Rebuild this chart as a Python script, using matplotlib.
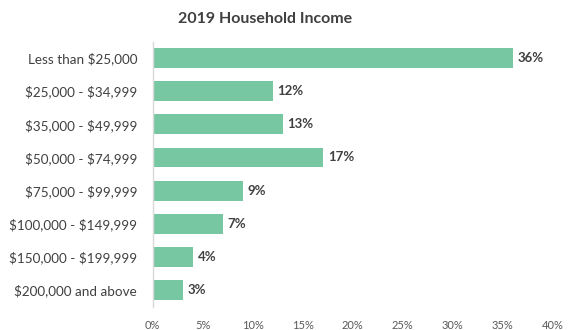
import matplotlib
matplotlib.use("Agg")
import matplotlib.pyplot as plt
from matplotlib.ticker import FuncFormatter

categories = [
    "Less than $25,000",
    "$25,000 - $34,999",
    "$35,000 - $49,999",
    "$50,000 - $74,999",
    "$75,000 - $99,999",
    "$100,000 - $149,999",
    "$150,000 - $199,999",
    "$200,000 and above",
]
shares = [36, 12, 13, 17, 9, 7, 4, 3]
x_ticks = [0, 5, 10, 15, 20, 25, 30, 35, 40]

plt.rcParams["font.family"] = ["Lato", "DejaVu Sans"]
plt.rcParams["text.parse_math"] = False

fig = plt.figure(figsize=(5.74, 3.30), dpi=100)
ax = fig.add_axes([0.2657, 0.0709, 0.6977, 0.8033])

ypos = list(range(len(categories)))
bars = ax.barh(ypos, shares, height=0.6, color="#78C7A3")

for b, v in zip(bars, shares):
    ax.text(b.get_width() + 0.5, b.get_y() + b.get_height() / 2, f"{v}%",
            va="center", ha="left", fontsize=9.5, fontweight="bold", color="#404040")

ax.set_xlim(0, 40)
ax.set_ylim(len(categories) - 0.5, -0.5)
ax.set_yticks(ypos)
ax.set_yticklabels(categories, fontsize=9.7, color="#404040")
ax.set_xticks(x_ticks)
ax.xaxis.set_major_formatter(FuncFormatter(lambda v, p: f"{v:.0f}%"))
ax.tick_params(axis="x", labelsize=8, colors="#595959", length=0, pad=10)
ax.tick_params(axis="y", length=0, pad=11)

for s in ["top", "right", "bottom"]:
    ax.spines[s].set_visible(False)
ax.spines["left"].set_color("#D9D9D9")
ax.spines["left"].set_linewidth(1)

fig.text(0.462, 0.943, "2019 Household Income", ha="center", va="center",
         fontsize=11.5, fontweight="bold", color="#404040")

fig.savefig("out.png", dpi=100)
